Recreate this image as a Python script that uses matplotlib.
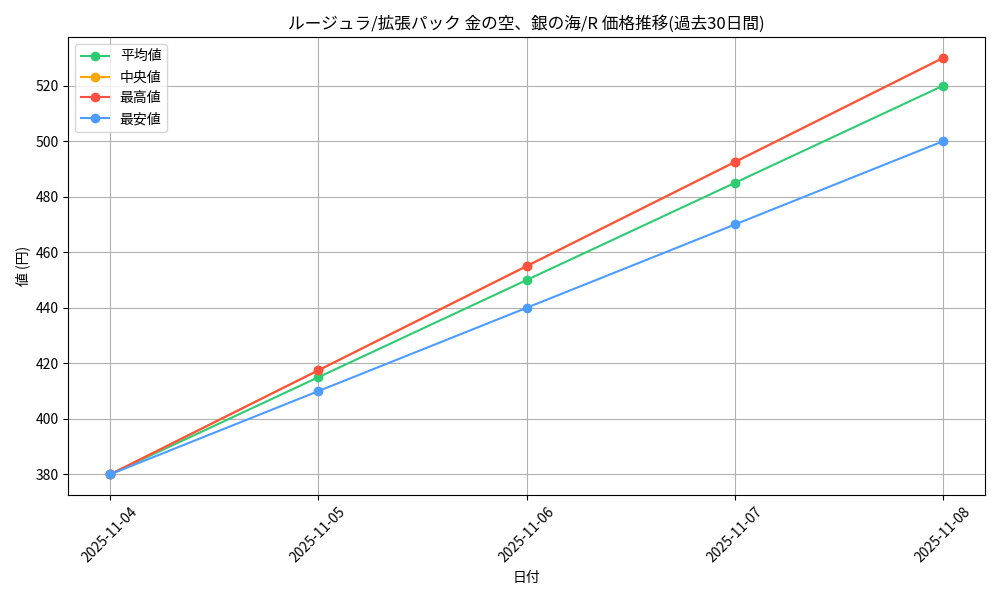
import matplotlib
matplotlib.use("Agg")
import matplotlib.pyplot as plt

plt.rcParams['font.family'] = ['Noto Sans CJK JP', 'DejaVu Sans']

dates = ["2025-11-04", "2025-11-05", "2025-11-06", "2025-11-07", "2025-11-08"]
avg_price = [380, 415, 450, 485, 520]
median_price = [380, 417.5, 455, 492.5, 530]
max_price = [380, 417.5, 455, 492.5, 530]
min_price = [380, 410, 440, 470, 500]

fig, ax = plt.subplots(figsize=(10, 6), dpi=100)
ax.plot(dates, avg_price, marker='o', color='#2ecc71', label='平均値')
ax.plot(dates, median_price, marker='o', color='#ffa500', label='中央値')
ax.plot(dates, max_price, marker='o', color='#ff5044', label='最高値')
ax.plot(dates, min_price, marker='o', color='#4d9cff', label='最安値')

ax.set_title('ルージュラ/拡張パック 金の空、銀の海/R 価格推移(過去30日間)')
ax.set_xlabel('日付')
ax.set_ylabel('値 (円)')
ax.grid(True)
ax.legend(loc='upper left')
plt.xticks(rotation=45)
plt.tight_layout()
plt.savefig('out.png')
